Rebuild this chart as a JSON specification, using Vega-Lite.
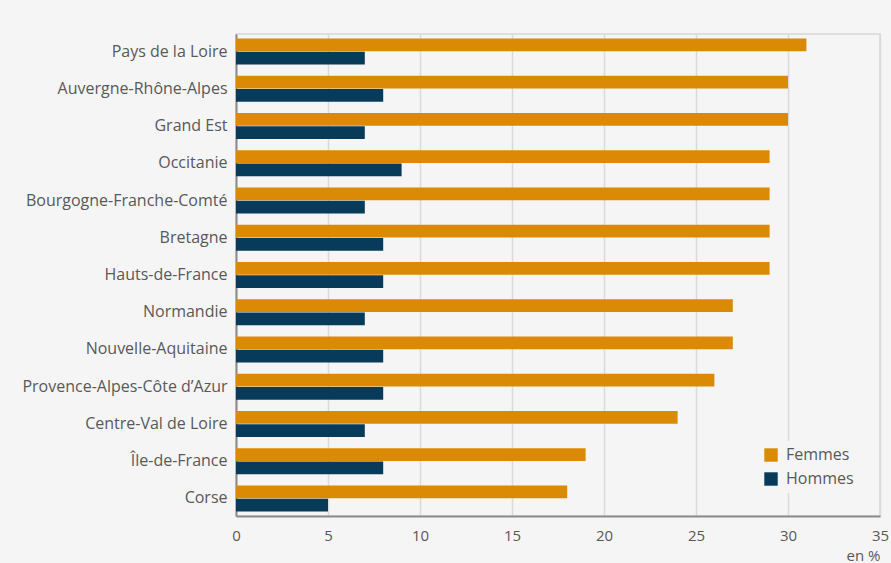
{
  "$schema": "https://vega.github.io/schema/vega-lite/v6.json",
  "width": 644,
  "height": 482,
  "autosize": {"type": "none"},
  "padding": {"left": 236, "top": 34, "right": 11, "bottom": 47},
  "background": "#f5f5f5",
  "config": {
    "font": "Open Sans",
    "view": {"stroke": "#d6d6d6", "strokeWidth": 1.5, "fill": "#f5f5f5"}
  },
  "data": {
    "values": [
      {"region": "Pays de la Loire", "sexe": "Femmes", "valeur": 31},
      {"region": "Pays de la Loire", "sexe": "Hommes", "valeur": 7},
      {"region": "Auvergne-Rhône-Alpes", "sexe": "Femmes", "valeur": 30},
      {"region": "Auvergne-Rhône-Alpes", "sexe": "Hommes", "valeur": 8},
      {"region": "Grand Est", "sexe": "Femmes", "valeur": 30},
      {"region": "Grand Est", "sexe": "Hommes", "valeur": 7},
      {"region": "Occitanie", "sexe": "Femmes", "valeur": 29},
      {"region": "Occitanie", "sexe": "Hommes", "valeur": 9},
      {"region": "Bourgogne-Franche-Comté", "sexe": "Femmes", "valeur": 29},
      {"region": "Bourgogne-Franche-Comté", "sexe": "Hommes", "valeur": 7},
      {"region": "Bretagne", "sexe": "Femmes", "valeur": 29},
      {"region": "Bretagne", "sexe": "Hommes", "valeur": 8},
      {"region": "Hauts-de-France", "sexe": "Femmes", "valeur": 29},
      {"region": "Hauts-de-France", "sexe": "Hommes", "valeur": 8},
      {"region": "Normandie", "sexe": "Femmes", "valeur": 27},
      {"region": "Normandie", "sexe": "Hommes", "valeur": 7},
      {"region": "Nouvelle-Aquitaine", "sexe": "Femmes", "valeur": 27},
      {"region": "Nouvelle-Aquitaine", "sexe": "Hommes", "valeur": 8},
      {"region": "Provence-Alpes-Côte d’Azur", "sexe": "Femmes", "valeur": 26},
      {"region": "Provence-Alpes-Côte d’Azur", "sexe": "Hommes", "valeur": 8},
      {"region": "Centre-Val de Loire", "sexe": "Femmes", "valeur": 24},
      {"region": "Centre-Val de Loire", "sexe": "Hommes", "valeur": 7},
      {"region": "Île-de-France", "sexe": "Femmes", "valeur": 19},
      {"region": "Île-de-France", "sexe": "Hommes", "valeur": 8},
      {"region": "Corse", "sexe": "Femmes", "valeur": 18},
      {"region": "Corse", "sexe": "Hommes", "valeur": 5}
    ]
  },
  "mark": {"type": "bar"},
  "encoding": {
    "y": {
      "field": "region",
      "type": "nominal",
      "sort": null,
      "scale": {"paddingInner": 0.3, "paddingOuter": 0.12},
      "axis": {
        "title": null,
        "ticks": false,
        "labelPadding": 9,
        "labelLimit": 400,
        "labelFontSize": 16,
        "labelColor": "#595959",
        "domainColor": "#8c8c8c",
        "domainWidth": 2
      }
    },
    "yOffset": {
      "field": "sexe",
      "type": "nominal",
      "sort": ["Femmes", "Hommes"],
      "scale": {"paddingInner": 0.05}
    },
    "x": {
      "field": "valeur",
      "type": "quantitative",
      "scale": {"domain": [0, 35], "nice": false},
      "axis": {
        "values": [0, 5, 10, 15, 20, 25, 30, 35],
        "title": "en %",
        "titleAnchor": "end",
        "titleAlign": "right",
        "titleFontWeight": "normal",
        "titleFontSize": 15,
        "titleColor": "#595959",
        "titlePadding": 5,
        "ticks": false,
        "labelFlush": false,
        "labelPadding": 12,
        "labelFontSize": 15,
        "labelColor": "#595959",
        "domainColor": "#8c8c8c",
        "domainWidth": 2,
        "grid": true,
        "gridColor": "#dadada",
        "gridWidth": 1.5
      }
    },
    "color": {
      "field": "sexe",
      "type": "nominal",
      "scale": {"domain": ["Femmes", "Hommes"], "range": ["#db8a06", "#083a5a"]},
      "legend": {
        "title": null,
        "orient": "none",
        "legendX": 521,
        "legendY": 407,
        "symbolType": "square",
        "symbolSize": 180,
        "symbolStrokeWidth": 0,
        "labelFontSize": 16,
        "labelColor": "#595959",
        "labelOffset": 7,
        "rowPadding": 8,
        "fillColor": "#f5f5f5",
        "padding": 6
      }
    }
  }
}
